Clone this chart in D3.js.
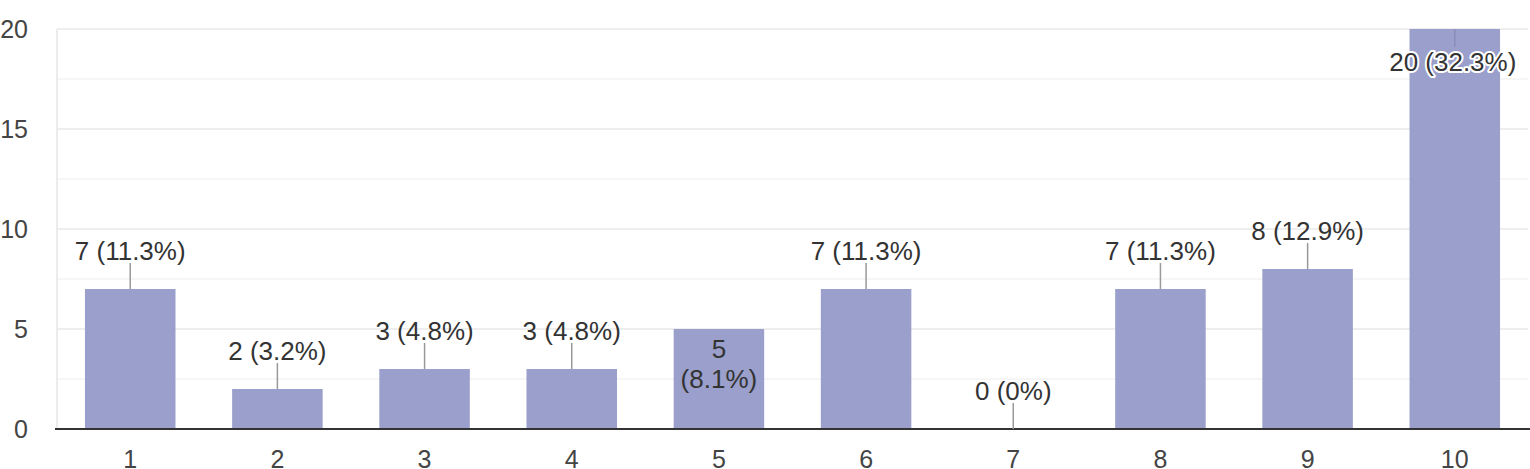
<!DOCTYPE html>
<html><head><meta charset="utf-8">
<script src="https://cdn.jsdelivr.net/npm/d3@7"></script>
<style>
html,body{margin:0;padding:0;background:#fff;}
svg{display:block;}
text{font-family:"Liberation Sans",Arial,sans-serif;}
</style></head>
<body>
<script>
const categories = ["1","2","3","4","5","6","7","8","9","10"];
const counts = [7,2,3,3,5,7,0,7,8,20];
const percents = ["11.3%","3.2%","4.8%","4.8%","8.1%","11.3%","0%","11.3%","12.9%","32.3%"];
const yTicks = [0,5,10,15,20];
const yMinorTicks = [2.5,7.5,12.5,17.5];

const W = 1530, H = 469;
const margin = {left:57, right:2, top:29, bottom:40};
const svg = d3.select("body").append("svg").attr("width",W).attr("height",H);

const x = d3.scaleBand().domain(categories).range([margin.left, W-margin.right]).paddingInner(0.385).paddingOuter(0.19);
const y = d3.scaleLinear().domain([0,20]).range([H-margin.bottom, margin.top]);

const FS = 26, TFS = 25;
// minor grid
svg.append("g").selectAll("line").data(yMinorTicks).join("line")
  .attr("x1",margin.left).attr("x2",W-margin.right)
  .attr("y1",d=>y(d)).attr("y2",d=>y(d))
  .attr("stroke","#f3f3f3").attr("stroke-width",1.5);
// major grid
svg.append("g").selectAll("line").data(yTicks.filter(d=>d>0)).join("line")
  .attr("x1",margin.left).attr("x2",W-margin.right)
  .attr("y1",d=>y(d)).attr("y2",d=>y(d))
  .attr("stroke","#e8e8e8").attr("stroke-width",1.5);
// left line
svg.append("line").attr("x1",margin.left).attr("x2",margin.left)
  .attr("y1",y(20)).attr("y2",y(0)).attr("stroke","#e6e6e6").attr("stroke-width",1.5);

// y axis labels
const yAxis = d3.axisLeft(y).tickValues(yTicks).tickSize(0).tickPadding(29);
const gy = svg.append("g").attr("transform",`translate(${margin.left},0)`).call(yAxis);
gy.select(".domain").remove();
gy.selectAll("text").attr("font-size",TFS).attr("fill","#444")
  .attr("font-family","'Liberation Sans',Arial,sans-serif");

// bars
const data = categories.map((c,i)=>({c, v:counts[i], p:percents[i]}));
svg.append("g").selectAll("rect").data(data).join("rect")
  .attr("x",d=>x(d.c)).attr("width",x.bandwidth())
  .attr("y",d=>y(d.v)).attr("height",d=>y(0)-y(d.v))
  .attr("fill","#9a9fcb");

// baseline
svg.append("line").attr("x1",margin.left-2).attr("x2",W)
  .attr("y1",y(0)).attr("y2",y(0)).attr("stroke","#333").attr("stroke-width",2);

// x axis
const xAxis = d3.axisBottom(x).tickSize(0).tickPadding(21);
const gx = svg.append("g").attr("transform",`translate(0,${y(0)})`).call(xAxis);
gx.select(".domain").remove();
gx.selectAll("text").attr("font-size",TFS).attr("fill","#444")
  .attr("font-family","'Liberation Sans',Arial,sans-serif");

// labels
const maxV = d3.max(counts);
const wrapInside = new Set(["5"]);
const lg = svg.append("g");
data.forEach(d=>{
  const cx = x(d.c) + x.bandwidth()/2;
  const top = y(d.v);
  const txt = `${d.v} (${d.p})`;
  if (d.v === maxV) {
    lg.append("line").attr("x1",cx).attr("x2",cx).attr("y1",top).attr("y2",top+18)
      .attr("stroke","#8a8eb5").attr("stroke-width",1.5);
    lg.append("text").attr("x",cx-2).attr("y",top+42).attr("text-anchor","middle")
      .attr("font-size",FS).attr("fill","#333")
      .attr("stroke","#fff").attr("stroke-width",4).attr("paint-order","stroke")
      .attr("stroke-linejoin","round").text(txt);
  } else if (wrapInside.has(d.c)) {
    lg.append("text").attr("x",cx).attr("y",top+29).attr("text-anchor","middle")
      .attr("font-size",FS).attr("fill","#333").text(`${d.v}`);
    lg.append("text").attr("x",cx).attr("y",top+59).attr("text-anchor","middle")
      .attr("font-size",FS).attr("fill","#333").text(`(${d.p})`);
  } else {
    lg.append("line").attr("x1",cx).attr("x2",cx).attr("y1",top).attr("y2",top-26)
      .attr("stroke","#999").attr("stroke-width",1.5);
    lg.append("text").attr("x",cx).attr("y",top-29).attr("text-anchor","middle")
      .attr("font-size",FS).attr("fill","#333").text(txt);
  }
});
</script>
</body></html>
